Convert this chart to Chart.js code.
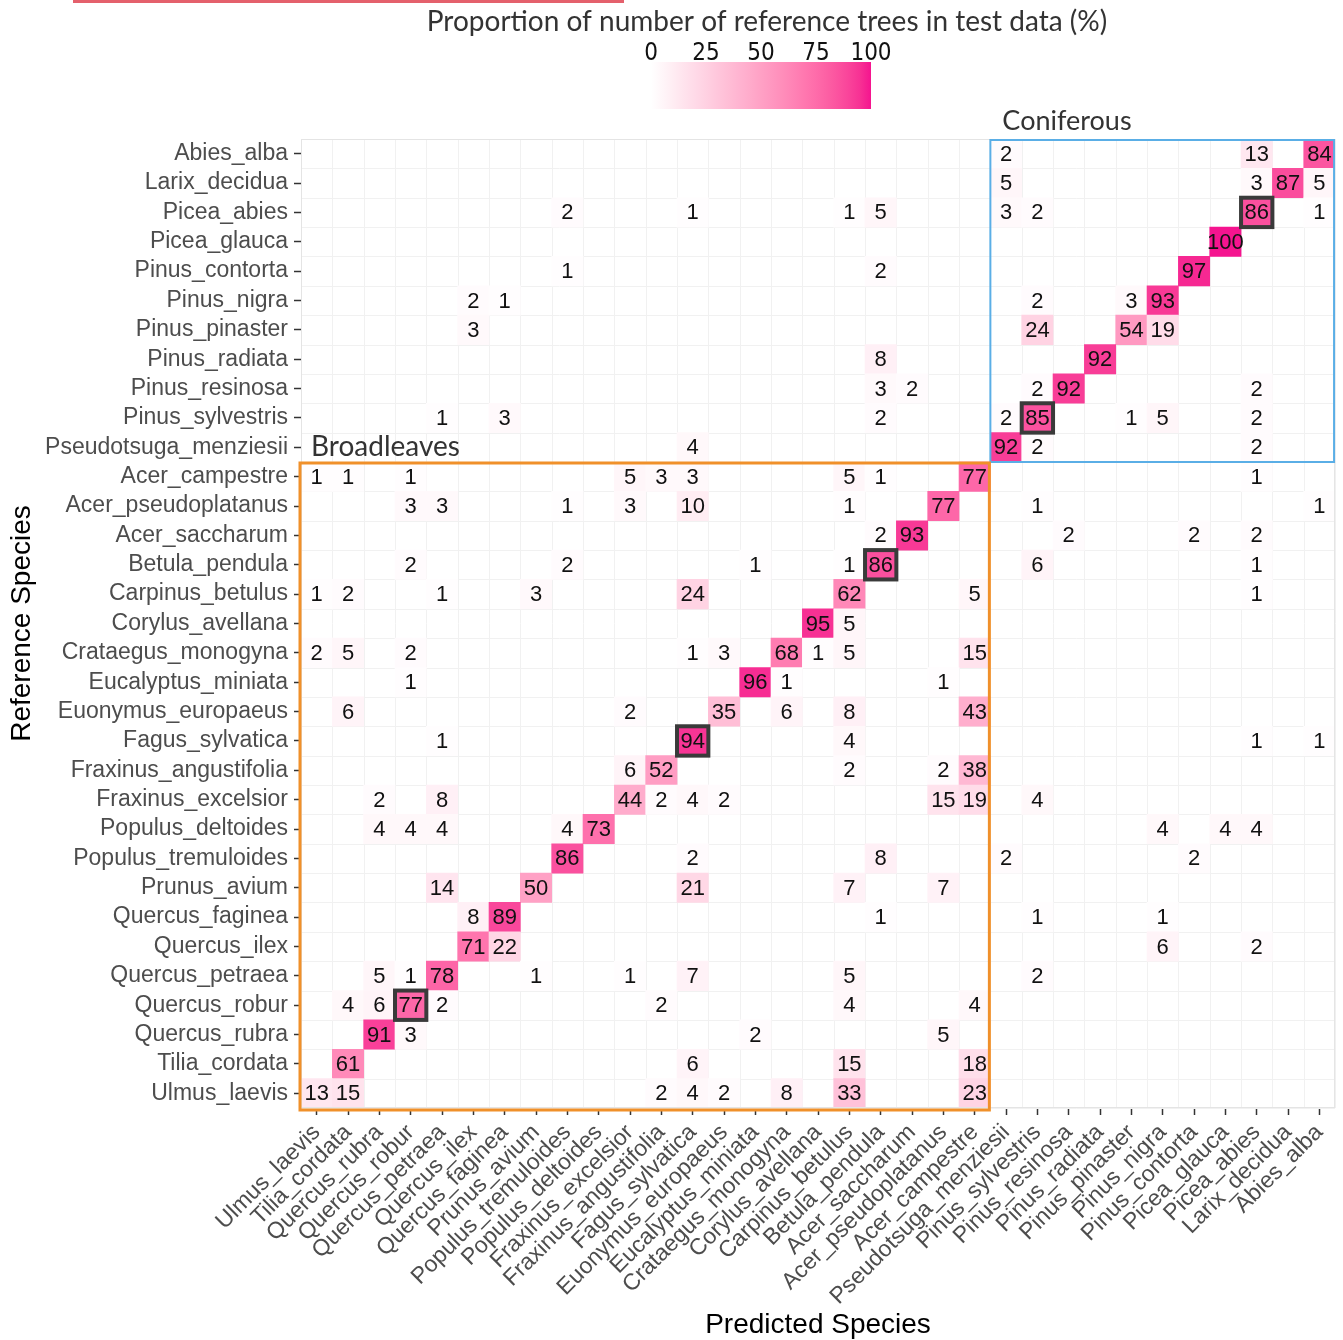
<!DOCTYPE html>
<html>
<head>
<meta charset="utf-8">
<script src="https://cdn.jsdelivr.net/npm/chart.js@4"></script>
<style>
  html, body { margin: 0; padding: 0; background: #fff; }
  #wrap { width: 1343px; height: 1340px; }
</style>
</head>
<body>
<div id="wrap"><canvas id="confusion"></canvas></div>
<script>
// rows (reference species), top to bottom
const reference = ['Abies_alba', 'Larix_decidua', 'Picea_abies', 'Picea_glauca', 'Pinus_contorta', 'Pinus_nigra',
  'Pinus_pinaster', 'Pinus_radiata', 'Pinus_resinosa', 'Pinus_sylvestris', 'Pseudotsuga_menziesii',
  'Acer_campestre', 'Acer_pseudoplatanus', 'Acer_saccharum', 'Betula_pendula', 'Carpinus_betulus',
  'Corylus_avellana', 'Crataegus_monogyna', 'Eucalyptus_miniata', 'Euonymus_europaeus', 'Fagus_sylvatica',
  'Fraxinus_angustifolia', 'Fraxinus_excelsior', 'Populus_deltoides', 'Populus_tremuloides', 'Prunus_avium',
  'Quercus_faginea', 'Quercus_ilex', 'Quercus_petraea', 'Quercus_robur', 'Quercus_rubra', 'Tilia_cordata',
  'Ulmus_laevis'];

// columns (predicted species), left to right
const predicted = ['Ulmus_laevis', 'Tilia_cordata', 'Quercus_rubra', 'Quercus_robur', 'Quercus_petraea',
  'Quercus_ilex', 'Quercus_faginea', 'Prunus_avium', 'Populus_tremuloides', 'Populus_deltoides',
  'Fraxinus_excelsior', 'Fraxinus_angustifolia', 'Fagus_sylvatica', 'Euonymus_europaeus', 'Eucalyptus_miniata',
  'Crataegus_monogyna', 'Corylus_avellana', 'Carpinus_betulus', 'Betula_pendula', 'Acer_saccharum',
  'Acer_pseudoplatanus', 'Acer_campestre', 'Pseudotsuga_menziesii', 'Pinus_sylvestris', 'Pinus_resinosa',
  'Pinus_radiata', 'Pinus_pinaster', 'Pinus_nigra', 'Pinus_contorta', 'Picea_glauca', 'Picea_abies',
  'Larix_decidua', 'Abies_alba'];

// percentages, one row per reference species, one column per predicted species
const values = [
  [0,0,0,0,0,0,0,0,0,0, 0,0,0,0,0,0,0,0,0,0, 0,0, 2,0,0,0,0,0,0,0,13,0,84],
  [0,0,0,0,0,0,0,0,0,0, 0,0,0,0,0,0,0,0,0,0, 0,0, 5,0,0,0,0,0,0,0,3,87,5],
  [0,0,0,0,0,0,0,0,2,0, 0,0,1,0,0,0,0,1,5,0, 0,0, 3,2,0,0,0,0,0,0,86,0,1],
  [0,0,0,0,0,0,0,0,0,0, 0,0,0,0,0,0,0,0,0,0, 0,0, 0,0,0,0,0,0,0,100,0,0,0],
  [0,0,0,0,0,0,0,0,1,0, 0,0,0,0,0,0,0,0,2,0, 0,0, 0,0,0,0,0,0,97,0,0,0,0],
  [0,0,0,0,0,2,1,0,0,0, 0,0,0,0,0,0,0,0,0,0, 0,0, 0,2,0,0,3,93,0,0,0,0,0],
  [0,0,0,0,0,3,0,0,0,0, 0,0,0,0,0,0,0,0,0,0, 0,0, 0,24,0,0,54,19,0,0,0,0,0],
  [0,0,0,0,0,0,0,0,0,0, 0,0,0,0,0,0,0,0,8,0, 0,0, 0,0,0,92,0,0,0,0,0,0,0],
  [0,0,0,0,0,0,0,0,0,0, 0,0,0,0,0,0,0,0,3,2, 0,0, 0,2,92,0,0,0,0,0,2,0,0],
  [0,0,0,0,1,0,3,0,0,0, 0,0,0,0,0,0,0,0,2,0, 0,0, 2,85,0,0,1,5,0,0,2,0,0],
  [0,0,0,0,0,0,0,0,0,0, 0,0,4,0,0,0,0,0,0,0, 0,0, 92,2,0,0,0,0,0,0,2,0,0],
  [1,1,0,1,0,0,0,0,0,0, 5,3,3,0,0,0,0,5,1,0, 0,77, 0,0,0,0,0,0,0,0,1,0,0],
  [0,0,0,3,3,0,0,0,1,0, 3,0,10,0,0,0,0,1,0,0, 77,0, 0,1,0,0,0,0,0,0,0,0,1],
  [0,0,0,0,0,0,0,0,0,0, 0,0,0,0,0,0,0,0,2,93, 0,0, 0,0,2,0,0,0,2,0,2,0,0],
  [0,0,0,2,0,0,0,0,2,0, 0,0,0,0,1,0,0,1,86,0, 0,0, 0,6,0,0,0,0,0,0,1,0,0],
  [1,2,0,0,1,0,0,3,0,0, 0,0,24,0,0,0,0,62,0,0, 0,5, 0,0,0,0,0,0,0,0,1,0,0],
  [0,0,0,0,0,0,0,0,0,0, 0,0,0,0,0,0,95,5,0,0, 0,0, 0,0,0,0,0,0,0,0,0,0,0],
  [2,5,0,2,0,0,0,0,0,0, 0,0,1,3,0,68,1,5,0,0, 0,15, 0,0,0,0,0,0,0,0,0,0,0],
  [0,0,0,1,0,0,0,0,0,0, 0,0,0,0,96,1,0,0,0,0, 1,0, 0,0,0,0,0,0,0,0,0,0,0],
  [0,6,0,0,0,0,0,0,0,0, 2,0,0,35,0,6,0,8,0,0, 0,43, 0,0,0,0,0,0,0,0,0,0,0],
  [0,0,0,0,1,0,0,0,0,0, 0,0,94,0,0,0,0,4,0,0, 0,0, 0,0,0,0,0,0,0,0,1,0,1],
  [0,0,0,0,0,0,0,0,0,0, 6,52,0,0,0,0,0,2,0,0, 2,38, 0,0,0,0,0,0,0,0,0,0,0],
  [0,0,2,0,8,0,0,0,0,0, 44,2,4,2,0,0,0,0,0,0, 15,19, 0,4,0,0,0,0,0,0,0,0,0],
  [0,0,4,4,4,0,0,0,4,73, 0,0,0,0,0,0,0,0,0,0, 0,0, 0,0,0,0,0,4,0,4,4,0,0],
  [0,0,0,0,0,0,0,0,86,0, 0,0,2,0,0,0,0,0,8,0, 0,0, 2,0,0,0,0,0,2,0,0,0,0],
  [0,0,0,0,14,0,0,50,0,0, 0,0,21,0,0,0,0,7,0,0, 7,0, 0,0,0,0,0,0,0,0,0,0,0],
  [0,0,0,0,0,8,89,0,0,0, 0,0,0,0,0,0,0,0,1,0, 0,0, 0,1,0,0,0,1,0,0,0,0,0],
  [0,0,0,0,0,71,22,0,0,0, 0,0,0,0,0,0,0,0,0,0, 0,0, 0,0,0,0,0,6,0,0,2,0,0],
  [0,0,5,1,78,0,0,1,0,0, 1,0,7,0,0,0,0,5,0,0, 0,0, 0,2,0,0,0,0,0,0,0,0,0],
  [0,4,6,77,2,0,0,0,0,0, 0,2,0,0,0,0,0,4,0,0, 0,4, 0,0,0,0,0,0,0,0,0,0,0],
  [0,0,91,3,0,0,0,0,0,0, 0,0,0,0,2,0,0,0,0,0, 5,0, 0,0,0,0,0,0,0,0,0,0,0],
  [0,61,0,0,0,0,0,0,0,0, 0,0,6,0,0,0,0,15,0,0, 0,18, 0,0,0,0,0,0,0,0,0,0,0],
  [13,15,0,0,0,0,0,0,0,0, 0,2,4,2,0,8,0,33,0,0, 0,23, 0,0,0,0,0,0,0,0,0,0,0]
];

// diagonal cells outlined in dark grey
const highlighted = ['Picea_abies', 'Pinus_sylvestris', 'Betula_pendula', 'Fagus_sylvatica', 'Quercus_robur'];
const legendTicks = [0, 25, 50, 75, 100];
const coniferCount = 11; // first 11 reference rows / last 11 predicted columns

const lowColour = [255, 255, 255];
const highColour = [245, 20, 143];

// gradient in Lab space, like ggplot's scale_fill_gradient
function toLinear(c) { c /= 255; return c <= 0.04045 ? c / 12.92 : Math.pow((c + 0.055) / 1.055, 2.4); }
function fromLinear(c) {
  const v = c <= 0.0031308 ? 12.92 * c : 1.055 * Math.pow(c, 1 / 2.4) - 0.055;
  return Math.round(Math.min(1, Math.max(0, v)) * 255);
}
function rgbToLab(rgb) {
  const [r, g, b] = rgb.map(toLinear);
  const f = t => t > 0.008856 ? Math.cbrt(t) : 7.787 * t + 16 / 116;
  const x = f((r * 0.4124 + g * 0.3576 + b * 0.1805) / 0.95047);
  const y = f(r * 0.2126 + g * 0.7152 + b * 0.0722);
  const z = f((r * 0.0193 + g * 0.1192 + b * 0.9505) / 1.08883);
  return [116 * y - 16, 500 * (x - y), 200 * (y - z)];
}
function labToRgb([L, a, bb]) {
  const fy = (L + 16) / 116, fx = a / 500 + fy, fz = fy - bb / 200;
  const g = t => t * t * t > 0.008856 ? t * t * t : (t - 16 / 116) / 7.787;
  const x = g(fx) * 0.95047, y = g(fy), z = g(fz) * 1.08883;
  return [
    fromLinear(x * 3.2406 - y * 1.5372 - z * 0.4986),
    fromLinear(-x * 0.9689 + y * 1.8758 + z * 0.0415),
    fromLinear(x * 0.0557 - y * 0.2040 + z * 1.0570)
  ];
}
const labLow = rgbToLab(lowColour);
const labHigh = rgbToLab(highColour);
function fillFor(v) {
  const t = Math.max(0, Math.min(1, v / 100));
  const [r, g, b] = labToRgb(labLow.map((c, i) => c + (labHigh[i] - c) * t));
  return `rgb(${r},${g},${b})`;
}

const cells = [];
values.forEach((row, r) => row.forEach((v, c) => {
  if (v > 0) cells.push({ x: predicted[c], y: [r - 0.5, r + 0.5], v: v, row: r, col: c });
}));

const sans = "'Liberation Sans', Arial, sans-serif";
const humanist = "Lato, 'Open Sans', sans-serif";

const decor = {
  id: 'decor',
  beforeDatasetsDraw(chart) {
    const { ctx, chartArea: a, scales: { x, y } } = chart;
    ctx.save();
    ctx.strokeStyle = '#f1f1f1';
    ctx.lineWidth = 1;
    ctx.beginPath();
    for (let i = 0; i <= predicted.length; i++) {
      const px = Math.round(x.getPixelForValue(i - 0.5)) + 0.5;
      ctx.moveTo(px, a.top); ctx.lineTo(px, a.bottom);
    }
    for (let i = 0; i <= reference.length; i++) {
      const py = Math.round(y.getPixelForValue(i - 0.5)) + 0.5;
      ctx.moveTo(a.left, py); ctx.lineTo(a.right, py);
    }
    ctx.stroke();
    ctx.restore();
  },
  afterDatasetsDraw(chart) {
    const { ctx, chartArea: a, scales: { x, y } } = chart;
    const meta = chart.getDatasetMeta(0);
    ctx.save();
    ctx.font = `22px ${sans}`;
    ctx.fillStyle = '#111';
    ctx.textAlign = 'center';
    ctx.textBaseline = 'middle';
    meta.data.forEach((bar, i) => {
      const c = bar.getCenterPoint();
      ctx.fillText(String(cells[i].v), c.x, c.y + 1);
    });
    // outlined diagonal cells
    ctx.strokeStyle = '#3a3a3a';
    ctx.lineWidth = 4;
    meta.data.forEach((bar, i) => {
      const cell = cells[i];
      if (cell.row !== reference.indexOf(predicted[cell.col])) return;
      if (!highlighted.includes(reference[cell.row])) return;
      const l = x.getPixelForValue(cell.col - 0.5), r = x.getPixelForValue(cell.col + 0.5);
      const t = y.getPixelForValue(cell.row - 0.5), b = y.getPixelForValue(cell.row + 0.5);
      ctx.strokeRect(l, t, r - l, b - t);
    });
    // panel border
    ctx.strokeStyle = '#e4e4e4';
    ctx.lineWidth = 1;
    ctx.strokeRect(a.left + 0.5, a.top + 0.5, a.width - 1, a.height - 1);
    // group frames
    const split = x.getPixelForValue(predicted.length - coniferCount - 0.5);
    const rowSplit = y.getPixelForValue(coniferCount - 0.5);
    ctx.strokeStyle = '#5aaee6';
    ctx.lineWidth = 2;
    ctx.strokeRect(split, a.top + 1, a.right - split - 1, rowSplit - a.top - 1);
    ctx.strokeStyle = '#f0902a';
    ctx.lineWidth = 3;
    ctx.strokeRect(a.left - 1, rowSplit + 1, split - a.left, a.bottom - rowSplit + 1);
    ctx.fillStyle = '#333';
    ctx.textAlign = 'left';
    ctx.textBaseline = 'middle';
    ctx.font = `27px ${humanist}`;
    ctx.fillText('Coniferous', split + 12, a.top - 18);
    ctx.font = `28px ${humanist}`;
    ctx.fillText('Broadleaves', a.left + 10, rowSplit - 15);
    ctx.restore();
  },
  afterDraw(chart) {
    const { ctx } = chart;
    ctx.save();
    ctx.fillStyle = '#e4606c';
    ctx.fillRect(73, 0, 551, 3);
    ctx.font = `28px ${humanist}`;
    ctx.fillStyle = '#333';
    ctx.textAlign = 'center';
    ctx.textBaseline = 'middle';
    ctx.fillText('Proportion of number of reference trees in test data (%)', 767, 22);
    const left = 651, right = 871, top = 62, bottom = 109;
    const grad = ctx.createLinearGradient(left, 0, right, 0);
    for (let s = 0; s <= 20; s++) grad.addColorStop(s / 20, fillFor(s * 5));
    ctx.fillStyle = grad;
    ctx.fillRect(left, top, right - left, bottom - top);
    ctx.font = `24px 'Liberation Sans Narrow', 'DejaVu Sans Condensed', ${sans}`;
    ctx.fillStyle = '#111';
    legendTicks.forEach(t => ctx.fillText(String(t), left + (right - left) * t / 100, 54));
    ctx.restore();
  }
};

new Chart(document.getElementById('confusion'), {
  type: 'bar',
  data: {
    labels: predicted,
    datasets: [{
      data: cells,
      backgroundColor: c => fillFor(c.raw ? c.raw.v : 0),
      borderWidth: 0,
      barPercentage: 1,
      categoryPercentage: 1
    }]
  },
  options: {
    responsive: true,
    maintainAspectRatio: false,
    animation: false,
    layout: { padding: { top: 139, right: 6, left: 0, bottom: 0 } },
    plugins: { legend: { display: false }, tooltip: { enabled: false } },
    scales: {
      x: {
        type: 'category',
        offset: true,
        grid: { offset: false, drawOnChartArea: false, tickLength: 7, tickColor: '#333', tickWidth: 1.5 },
        border: { display: false },
        ticks: { autoSkip: false, minRotation: 45, maxRotation: 45, padding: 4, color: '#4d4d4d', font: { family: sans, size: 23 } },
        title: { display: true, text: 'Predicted Species', color: '#000', font: { family: sans, size: 28, lineHeight: 1 }, padding: { top: 0, bottom: 1 } },
        afterFit: s => { s.height = 232; }
      },
      y: {
        type: 'linear',
        reverse: true,
        min: -0.5,
        max: reference.length - 0.5,
        afterBuildTicks: s => { s.ticks = reference.map((_, i) => ({ value: i })); },
        grid: { drawOnChartArea: false, tickLength: 7, tickColor: '#333', tickWidth: 1.5 },
        border: { display: false },
        ticks: { autoSkip: false, padding: 6, color: '#4d4d4d', font: { family: sans, size: 23 }, callback: v => reference[v] },
        title: { display: true, text: 'Reference Species', color: '#000', font: { family: sans, size: 28, lineHeight: 1 }, padding: { top: 8, bottom: 0 } },
        afterFit: s => { s.width = 301; }
      }
    }
  },
  plugins: [decor]
});
</script>
</body>
</html>
